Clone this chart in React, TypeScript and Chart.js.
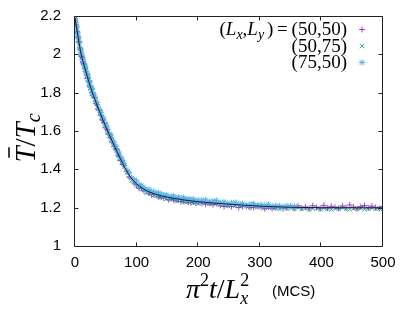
import React, { useEffect, useRef } from 'react';
import { Chart, registerables } from 'chart.js';
Chart.register(...registerables);

// shared x grid (pi^2 t / Lx^2)
const X = [
  0,1,2,3,4,5,6,7,8,9,10,11,12,13,14,15,16,17,18,19,20,21,22,23,24,25,26,27,28,29,30,
  32,34,36,38,40,42,44,46,48,50,52,54,56,58,60,62,64,66,68,70,72,74,76,78,80,
  84,88,92,96,100,104,108,112,116,120,124,128,132,136,140,144,148,152,156,160,164,168,172,176,180,184,188,192,196,200,
  206,212,218,224,230,236,242,248,254,260,266,272,278,284,290,296,302,308,314,320,326,332,338,344,350,356,362,368,374,380,
  386,392,398,404,410,416,422,428,434,440,446,452,458,464,470,476,482,488,494,500,
];

// (Lx,Ly)=(50,50)
const S5050 = [
  2.186,2.165,2.153,2.120,2.116,2.090,2.065,2.065,2.033,2.022,1.991,1.990,1.983,1.958,1.951,1.949,1.925,1.910,1.912,1.897,1.874,1.880,1.861,1.862,1.834,1.833,1.816,1.820,1.800,1.785,1.789,
  1.774,1.743,1.737,1.712,1.709,1.682,1.659,1.657,1.645,1.616,1.609,1.584,1.584,1.566,1.543,1.544,1.518,1.507,1.504,1.475,1.470,1.446,1.447,1.425,1.419,
  1.388,1.360,1.353,1.329,1.319,1.302,1.302,1.288,1.291,1.276,1.267,1.269,1.268,1.256,1.256,1.251,1.256,1.242,1.247,1.242,1.238,1.242,1.232,1.235,1.238,1.229,1.226,1.230,1.226,1.229,
  1.224,1.218,1.223,1.216,1.221,1.213,1.206,1.213,1.206,1.214,1.201,1.206,1.208,1.201,1.202,1.208,1.202,1.195,1.203,1.196,
  1.199,1.205,1.196,1.199,1.208,1.197,1.209,1.198,1.203,1.194,1.210,1.201,1.195,1.212,1.197,1.207,1.202,1.196,1.209,1.199,
  1.214,1.203,1.194,1.205,1.211,1.198,1.208,1.201,1.196,1.206,
];

// (50,75)
const S5075 = [
  2.184,2.179,2.148,2.135,2.100,2.093,2.079,2.050,2.028,2.019,2.006,1.985,1.986,1.957,1.954,1.935,1.937,1.917,1.898,1.900,1.891,1.866,1.866,1.850,1.850,1.824,1.822,1.808,1.810,1.784,1.787,
  1.763,1.758,1.725,1.719,1.697,1.692,1.663,1.654,1.628,1.627,1.606,1.599,1.572,1.567,1.546,1.528,1.529,1.507,1.498,1.474,1.458,1.456,1.436,1.436,1.412,
  1.385,1.368,1.342,1.332,1.314,1.311,1.297,1.291,1.278,1.279,1.277,1.265,1.263,1.256,1.257,1.256,1.245,1.248,1.243,1.247,1.237,1.238,1.239,1.232,1.227,1.232,1.233,1.226,1.227,1.221,
  1.226,1.227,1.219,1.221,1.222,1.214,1.216,1.209,1.211,1.213,1.207,1.212,1.207,1.202,1.206,1.203,1.206,1.199,1.203,1.198,
  1.199,1.193,1.201,1.196,1.198,1.193,1.200,1.193,1.197,1.191,1.195,1.198,1.192,1.196,1.194,1.190,1.197,1.193,1.199,1.195,
  1.191,1.196,1.194,1.198,1.192,1.195,1.197,1.193,1.196,1.194,
];

// (75,50)
const S7550 = [
  2.176,2.174,2.144,2.139,2.111,2.087,2.086,2.060,2.028,2.028,2.002,2.003,1.972,1.971,1.963,1.938,1.937,1.931,1.910,1.891,1.894,1.890,1.864,1.858,1.853,1.827,1.831,1.817,1.817,1.793,1.792,
  1.778,1.754,1.748,1.715,1.708,1.696,1.674,1.669,1.639,1.631,1.621,1.590,1.586,1.579,1.554,1.547,1.528,1.522,1.496,1.490,1.484,1.459,1.453,1.436,1.430,
  1.398,1.382,1.354,1.346,1.339,1.319,1.316,1.305,1.292,1.296,1.285,1.284,1.274,1.278,1.271,1.265,1.267,1.257,1.259,1.262,1.252,1.255,1.250,1.253,1.243,1.246,1.242,1.245,1.236,1.239,
  1.239,1.241,1.232,1.235,1.237,1.227,1.230,1.222,1.225,1.228,1.220,1.222,1.214,1.218,1.221,1.213,1.216,1.212,1.216,1.208,
  1.211,1.209,1.205,1.210,1.206,1.207,
];

// fitted curve
const FIT_X = [0,5,10,15,20,25,30,40,50,60,70,80,90,100,110,120,140,160,180,200,225,250,300,350,400,500];
const FIT_Y = [2.19,2.09,2.0,1.94,1.885,1.83,1.785,1.70,1.622,1.55,1.48,1.415,1.36,1.325,1.30,1.283,1.262,1.249,1.239,1.231,1.224,1.218,1.208,1.202,1.200,1.199];

const X_TICKS = [0, 100, 200, 300, 400, 500];
const Y_TICKS = [1, 1.2, 1.4, 1.6, 1.8, 2, 2.2];
const LEGEND_LABELS = ['(50,50)', '(50,75)', '(75,50)'];

const PURPLE = 'rgba(148,0,211,0.75)';
const GREEN = 'rgba(0,158,115,0.8)';
const BLUE = 'rgb(86,180,233)';

type Seg = { t: string; f: string; dy?: number; stack?: boolean; bar?: boolean };

function segsWidth(ctx: CanvasRenderingContext2D, segs: Seg[]) {
  let w = 0, pend = 0;
  for (const s of segs) {
    ctx.font = s.f;
    const m = ctx.measureText(s.t).width;
    if (s.stack) pend = Math.max(pend, m);
    else { w += Math.max(m, pend); pend = 0; }
  }
  return w + pend;
}

function drawSegs(ctx: CanvasRenderingContext2D, segs: Seg[], x: number, y: number, barY = -26) {
  let cx = x, pend = 0;
  for (const s of segs) {
    ctx.font = s.f;
    const m = ctx.measureText(s.t).width;
    ctx.fillText(s.t, cx, y + (s.dy || 0));
    if (s.bar) {
      ctx.save();
      ctx.lineWidth = 1.5;
      ctx.beginPath();
      ctx.moveTo(cx + m * 0.3, y + barY);
      ctx.lineTo(cx + m * 0.95, y + barY);
      ctx.stroke();
      ctx.restore();
    }
    if (s.stack) pend = Math.max(pend, m);
    else { cx += Math.max(m, pend); pend = 0; }
  }
}

function marker(ctx: CanvasRenderingContext2D, kind: string, x: number, y: number, r: number, color: string) {
  ctx.save();
  ctx.strokeStyle = color;
  ctx.lineWidth = 1;
  ctx.beginPath();
  if (kind === 'cross' || kind === 'star') {
    ctx.moveTo(x - r, y); ctx.lineTo(x + r, y);
    ctx.moveTo(x, y - r); ctx.lineTo(x, y + r);
  }
  if (kind === 'crossRot' || kind === 'star') {
    const d = r * 0.75;
    ctx.moveTo(x - d, y - d); ctx.lineTo(x + d, y + d);
    ctx.moveTo(x - d, y + d); ctx.lineTo(x + d, y - d);
  }
  ctx.stroke();
  ctx.restore();
}

const SERIF = '"Liberation Serif", "DejaVu Serif", serif';
const SANS = '"Liberation Sans", Arial, sans-serif';

const decor = {
  id: 'decor',
  afterDatasetsDraw(chart: any) {
    const { ctx, chartArea: a, scales } = chart;
    const xL = Math.round(a.left) - 0.5;
    const xR = Math.round(a.right) - 0.5;
    const yT = Math.round(a.top) + 0.5;
    const yB = Math.round(a.bottom) + 0.5;
    ctx.save();
    ctx.strokeStyle = '#222';
    ctx.lineWidth = 1;
    ctx.beginPath();
    ctx.rect(xL, yT, xR - xL, yB - yT);
    for (const v of X_TICKS) {
      const px = Math.round(scales.x.getPixelForValue(v)) - 0.5;
      ctx.moveTo(px, yB); ctx.lineTo(px, yB - 4);
      ctx.moveTo(px, yT); ctx.lineTo(px, yT + 4);
    }
    for (const v of Y_TICKS) {
      const py = Math.round(scales.y.getPixelForValue(v)) + 0.5;
      ctx.moveTo(xL, py); ctx.lineTo(xL + 4, py);
      ctx.moveTo(xR, py); ctx.lineTo(xR - 4, py);
    }
    ctx.stroke();
    ctx.restore();
  },
  afterDraw(chart: any) {
    const { ctx } = chart;
    ctx.save();
    ctx.fillStyle = '#000';
    ctx.strokeStyle = '#000';
    ctx.textAlign = 'left';
    ctx.textBaseline = 'alphabetic';

    // legend
    const big = `19px ${SERIF}`;
    const it = `italic 19px ${SERIF}`;
    const sub = `italic 14px ${SERIF}`;
    const thin = '\u2009';
    const row1: Seg[] = [
      { t: '(', f: big }, { t: 'L', f: it }, { t: 'x', f: sub, dy: 4 }, { t: ',', f: big },
      { t: 'L', f: it }, { t: 'y' + thin, f: sub, dy: 4 }, { t: ')' + thin + '=' + thin + LEGEND_LABELS[0], f: big },
    ];
    const rows: Seg[][] = [row1, [{ t: LEGEND_LABELS[1], f: big }], [{ t: LEGEND_LABELS[2], f: big }]];
    const baselines = [35, 51.5, 68];
    const kinds = ['cross', 'crossRot', 'star'];
    const colors = [PURPLE, GREEN, BLUE];
    rows.forEach((segs, i) => {
      const w = segsWidth(ctx, segs);
      drawSegs(ctx, segs, 347 - w, baselines[i]);
      marker(ctx, kinds[i], 362, baselines[i] - 5.5, 3, colors[i]);
    });

    // y title
    const m29 = `italic 29px ${SERIF}`;
    const u29 = `29px ${SERIF}`;
    const ySegs: Seg[] = [
      { t: 'T', f: m29, bar: true }, { t: '/', f: u29 }, { t: 'T', f: m29 }, { t: 'c', f: `italic 20px ${SERIF}`, dy: 5 },
    ];
    ctx.save();
    ctx.translate(35, 138);
    ctx.rotate(-Math.PI / 2);
    const yw = segsWidth(ctx, ySegs);
    drawSegs(ctx, ySegs, -yw / 2, 0, -26);
    ctx.restore();

    // x title
    const m28 = `italic 28px ${SERIF}`;
    const u28 = `28px ${SERIF}`;
    const s18 = `18px ${SERIF}`;
    const xSegs: Seg[] = [
      { t: 'π', f: m28 }, { t: '2', f: s18, dy: -12 }, { t: 't', f: m28 }, { t: '/', f: u28 },
      { t: 'L', f: m28 }, { t: '2', f: s18, dy: -12, stack: true }, { t: 'x', f: `italic 18px ${SERIF}`, dy: 6 },
    ];
    drawSegs(ctx, xSegs, 186, 298);
    ctx.font = `15px ${SANS}`;
    ctx.fillText('(MCS)', 272, 296);
    ctx.restore();
  },
};

export default function App() {
  const ref = useRef<HTMLCanvasElement | null>(null);
  useEffect(() => {
    if (!ref.current) return;
    const pts = (ys: number[]) => ys.map((y, i) => ({ x: X[i], y }));
    const tickFont = { family: SANS, size: 15 };
    const chart = new Chart(ref.current, {
      type: 'scatter',
      data: {
        datasets: [
          {
            label: 'fit',
            data: FIT_X.map((x, i) => ({ x, y: FIT_Y[i] })),
            showLine: true,
            pointRadius: 0,
            borderColor: '#1c1c30',
            borderWidth: 1,
            cubicInterpolationMode: 'monotone',
            order: 0,
          } as any,
          {
            label: '(75,50)',
            data: pts(S7550),
            pointStyle: 'star',
            pointRadius: 3,
            borderColor: BLUE,
            backgroundColor: BLUE,
            pointBorderWidth: 1,
            order: 1,
          } as any,
          {
            label: '(50,75)',
            data: pts(S5075),
            pointStyle: 'crossRot',
            pointRadius: 3,
            borderColor: GREEN,
            backgroundColor: GREEN,
            pointBorderWidth: 1,
            order: 2,
          } as any,
          {
            label: '(50,50)',
            data: pts(S5050),
            pointStyle: 'cross',
            pointRadius: 3,
            borderColor: PURPLE,
            backgroundColor: PURPLE,
            pointBorderWidth: 1,
            order: 3,
          } as any,
        ],
      },
      options: {
        animation: false,
        responsive: true,
        maintainAspectRatio: false,
        layout: { padding: { top: 16, right: 32, bottom: 0, left: 0 } },
        plugins: { legend: { display: false }, tooltip: { enabled: false } },
        scales: {
          x: {
            type: 'linear',
            min: 0,
            max: 500,
            grid: { display: false },
            border: { display: false },
            ticks: { stepSize: 100, padding: 0, color: '#000', font: tickFont },
            afterFit: (s: any) => { s.height = 66; },
          },
          y: {
            type: 'linear',
            min: 1,
            max: 2.2,
            grid: { display: false },
            border: { display: false },
            ticks: {
              stepSize: 0.2,
              padding: 6,
              color: '#000',
              font: tickFont,
              callback: (v: any) => String(Math.round(Number(v) * 10) / 10),
            },
            afterFit: (s: any) => { s.width = 75; },
          },
        },
      } as any,
      plugins: [decor],
    });
    return () => chart.destroy();
  }, []);
  return (
    <div style={{ position: 'absolute', left: 0, top: 0, width: 415, height: 312 }}>
      <canvas ref={ref} />
    </div>
  );
}
